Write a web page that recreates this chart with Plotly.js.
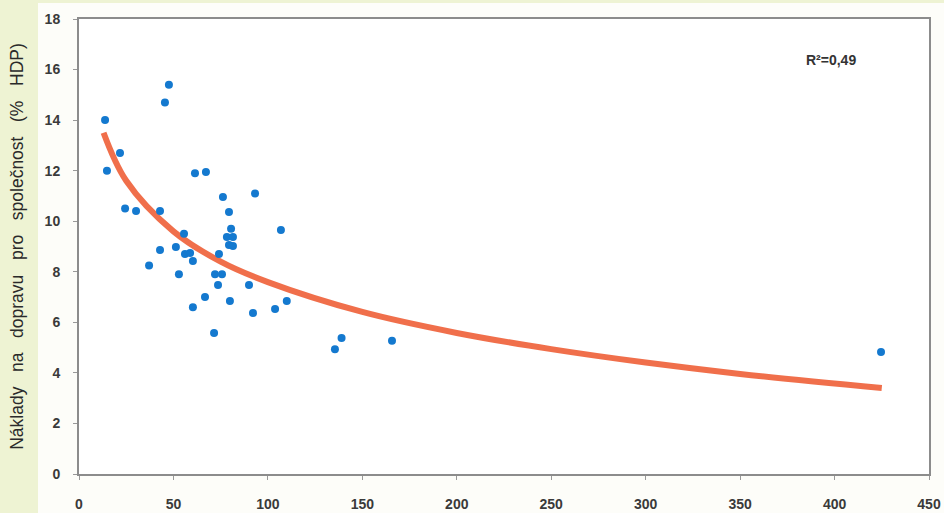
<!DOCTYPE html>
<html>
<head>
<meta charset="utf-8">
<script src="https://cdn.plot.ly/plotly-3.0.1.min.js"></script>
<style>
html,body{margin:0;padding:0;}
body{width:944px;height:513px;background:linear-gradient(to right,#eef3d3 0px,#eef3d3 38px,#fdfdf9 38px,#fdfdf9 100%);}
#chart{width:944px;height:513px;position:relative;}
#topband{position:absolute;left:0;top:0;width:944px;height:3px;background:#eef3d3;}
</style>
</head>
<body>
<div id="topband"></div>
<div id="chart"></div>
<script>
// Scatter data (x, y)
const xValues = [13.8, 14.8, 21.7, 47.6, 45.5, 24.4, 30.2, 42.9, 61.4, 67.2,
  55.6, 42.9, 51.3, 56.1, 58.8, 60.3, 37.1, 52.9, 66.7, 60.3,
  76.2, 93.2, 79.4, 106.9, 80.5, 78.3, 81.5, 79.4, 81.5, 74.1,
  72.0, 75.7, 73.6, 90.0, 79.9, 110.0, 92.1, 103.8, 71.5, 139.0,
  135.5, 165.7, 424.6];
const yValues = [14.0, 12.0, 12.7, 15.4, 14.7, 10.5, 10.4, 10.4, 11.9, 11.95,
  9.5, 8.86, 8.98, 8.7, 8.74, 8.43, 8.25, 7.9, 7.0, 6.6,
  10.96, 11.1, 10.36, 9.65, 9.7, 9.38, 9.38, 9.06, 9.02, 8.7,
  7.9, 7.9, 7.48, 7.48, 6.84, 6.84, 6.37, 6.53, 5.58, 5.38,
  4.94, 5.27, 4.83];
// Trend line
const trendX = [13, 25, 50, 75, 100, 150, 200, 250, 300, 350, 425];
const trendY = [13.5, 11.6, 9.6, 8.4, 7.59, 6.41, 5.58, 4.94, 4.41, 3.96, 3.4];
const xTicks = [0, 50, 100, 150, 200, 250, 300, 350, 400, 450];
const yTicks = [0, 2, 4, 6, 8, 10, 12, 14, 16, 18];
const yTitle = 'Náklady\u00A0\u00A0 na\u00A0\u00A0 dopravu\u00A0\u00A0 pro\u00A0\u00A0 společnost\u00A0\u00A0 (%\u00A0\u00A0 HDP)';
const rText = 'R²=0,49';

const traces = [
  {x: trendX, y: trendY, type: 'scatter', mode: 'lines',
   line: {color: 'rgba(238,95,55,0.9)', width: 6, shape: 'spline'}, hoverinfo: 'skip'},
  {x: xValues, y: yValues, type: 'scatter', mode: 'markers',
   marker: {color: '#1479cf', size: 8}}
];
const tickFont = {family: 'Liberation Sans, Arial, sans-serif', size: 14, color: '#3a3a3a', weight: 'bold'};
const layout = {
  width: 944, height: 513,
  margin: {l: 79, r: 15, t: 19, b: 39},
  paper_bgcolor: 'rgba(0,0,0,0)',
  plot_bgcolor: '#ffffff',
  showlegend: false,
  xaxis: {range: [0, 450], tickvals: xTicks, ticktext: xTicks.map(String), showgrid: false, zeroline: false,
    showline: true, mirror: true, linecolor: '#8c8c8c', linewidth: 2,
    ticks: 'outside', ticklen: 4, tickcolor: '#999', tickfont: tickFont, ticklabelstandoff: 12},
  yaxis: {range: [0, 18], tickvals: yTicks, ticktext: yTicks.map(String), showgrid: false, zeroline: false,
    showline: true, mirror: true, linecolor: '#8c8c8c', linewidth: 2,
    ticks: 'outside', ticklen: 4, tickcolor: '#999', tickfont: tickFont, ticklabelstandoff: 10,
    title: {text: yTitle, font: {family: 'Liberation Sans, Arial, sans-serif', size: 17.5, color: '#2a2a2a'}, standoff: 16}},
  annotations: [{xref: 'paper', yref: 'paper', x: 0.885, y: 0.91, xanchor: 'center', yanchor: 'middle',
    text: rText, showarrow: false,
    font: {family: 'Liberation Sans, Arial, sans-serif', size: 14, color: '#333', weight: 'bold'}}]
};
Plotly.newPlot('chart', traces, layout, {displayModeBar: false, staticPlot: true});
</script>
</body>
</html>
